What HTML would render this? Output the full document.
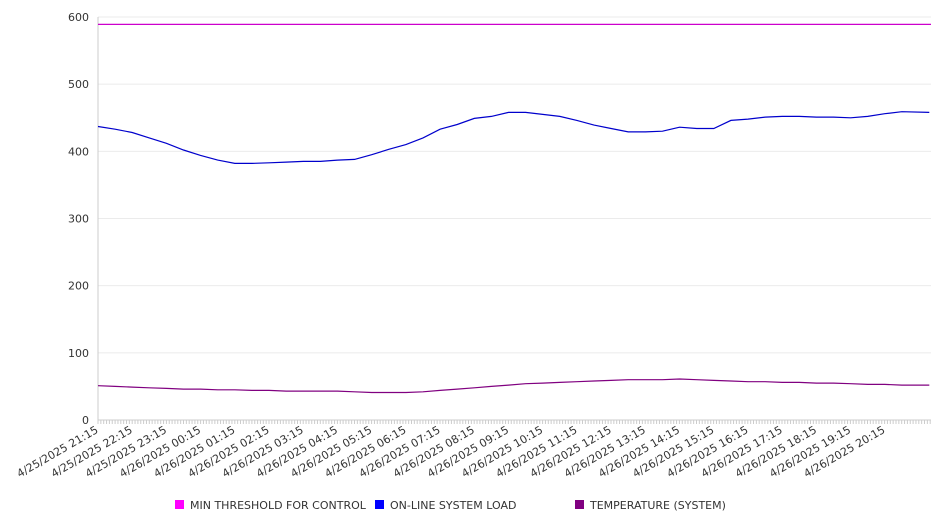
<!DOCTYPE html>
<html><head><meta charset="utf-8"><style>
body{margin:0;background:#fff;font-family:"DejaVu Sans","Liberation Sans",sans-serif;}
svg text{font-family:"DejaVu Sans","Liberation Sans",sans-serif;font-size:11px;fill:#333;}
</style></head><body>
<svg id="chart" width="946" height="526" xmlns="http://www.w3.org/2000/svg">
<g id="grid"></g>
<g id="axes"></g>
<g id="series"></g>
<g id="legend"></g>
</svg>
<script>
const hours = [0,0.5,1,1.5,2,2.5,3,3.5,4,4.5,5,5.5,6,6.5,7,7.5,8,8.5,9,9.5,10,10.5,11,11.5,12,12.5,13,13.5,14,14.5,15,15.5,16,16.5,17,17.5,18,18.5,19,19.5,20,20.5,21,21.5,22,22.5,23,23.5,24.3];
const loadValues = [437,433,428,420,412,402,394,387,382,382,383,384,385,385,387,388,395,403,410,420,433,440,449,452,458,458,455,452,446,439,434,429,429,430,436,434,434,446,448,451,452,452,451,451,450,452,456,459,458];
const tempValues = [51,50,49,48,47,46,46,45,45,44,44,43,43,43,43,42,41,41,41,42,44,46,48,50,52,54,55,56,57,58,59,60,60,60,61,60,59,58,57,57,56,56,55,55,54,53,53,52,52];
const thresholdValue = 589;
const yTicks = [0,100,200,300,400,500,600];
const xTickLabels = ["4/25/2025 21:15","4/25/2025 22:15","4/25/2025 23:15","4/26/2025 00:15","4/26/2025 01:15","4/26/2025 02:15","4/26/2025 03:15","4/26/2025 04:15","4/26/2025 05:15","4/26/2025 06:15","4/26/2025 07:15","4/26/2025 08:15","4/26/2025 09:15","4/26/2025 10:15","4/26/2025 11:15","4/26/2025 12:15","4/26/2025 13:15","4/26/2025 14:15","4/26/2025 15:15","4/26/2025 16:15","4/26/2025 17:15","4/26/2025 18:15","4/26/2025 19:15","4/26/2025 20:15"];

const NS="http://www.w3.org/2000/svg";
const X0=98,X1=931,Y0=420,Y1=17,HMAX=24.35;
const xs=h=>X0+(h/HMAX)*(X1-X0);
const ys=v=>Y0-(v/600)*(Y0-Y1);
function mk(tag,parent){const e=document.createElementNS(NS,tag);parent.appendChild(e);return e;}
const grid=document.getElementById('grid'),axes=document.getElementById('axes'),series=document.getElementById('series'),legend=document.getElementById('legend');

yTicks.forEach(v=>{
  const l=mk('line',grid);
  
  
  l.setAttribute('x1',X0);l.setAttribute('x2',X1);l.setAttribute('y1',ys(v));l.setAttribute('y2',ys(v));
  l.setAttribute('stroke',v===0?'#ccc':'#ebebeb');l.setAttribute('stroke-width','1');
  const t=mk('text',axes);
  
  
  t.setAttribute('x',X0-9);t.setAttribute('y',ys(v)+4);t.setAttribute('text-anchor','end');
  t.textContent=v;
});
const ax=mk('line',axes);


ax.setAttribute('x1',X0);ax.setAttribute('x2',X0);ax.setAttribute('y1',Y1);ax.setAttribute('y2',Y0);ax.setAttribute('stroke','#ccc');
for(let x=X0;x<=X1;x+=2.85){
  const tk=mk('line',axes);
  
  
  tk.setAttribute('x1',x);tk.setAttribute('x2',x);tk.setAttribute('y1',Y0);tk.setAttribute('y2',Y0+4);tk.setAttribute('stroke','#ccc');
}
xTickLabels.forEach((lab,i)=>{
  const x=xs(i);
  const t=mk('text',axes);
  
  
  t.setAttribute('text-anchor','end');
  t.setAttribute('transform',`translate(${x+1},${Y0+12}) rotate(-30)`);
  t.textContent=lab;
});

function line(vals,color,name){
  const p=mk('polyline',series);
  
  
  p.setAttribute('points',vals.map((v,i)=>xs(hours[i]).toFixed(1)+','+ys(v).toFixed(1)).join(' '));
  p.setAttribute('fill','none');p.setAttribute('stroke',color);p.setAttribute('stroke-width','1.2');
}
const th=mk('line',series);


th.setAttribute('x1',X0);th.setAttribute('x2',X1);th.setAttribute('y1',ys(thresholdValue));th.setAttribute('y2',ys(thresholdValue));
th.setAttribute('stroke','#cc00cc');th.setAttribute('stroke-width','1.2');
line(loadValues,'#0000cc','online-system-load-line');
line(tempValues,'#800080','temperature-line');

[["MIN THRESHOLD FOR CONTROL","#ff00ff",175],["ON-LINE SYSTEM LOAD","#0000ff",375],["TEMPERATURE (SYSTEM)","#800080",575]].forEach(([n,c,x])=>{
  const r=mk('rect',legend);
  
  
  r.setAttribute('x',x);r.setAttribute('y',500);r.setAttribute('width',9);r.setAttribute('height',9);r.setAttribute('fill',c);
  const t=mk('text',legend);
  
  
  t.setAttribute('x',x+15);t.setAttribute('y',509);
  t.textContent=n;
});
</script>
</body></html>
